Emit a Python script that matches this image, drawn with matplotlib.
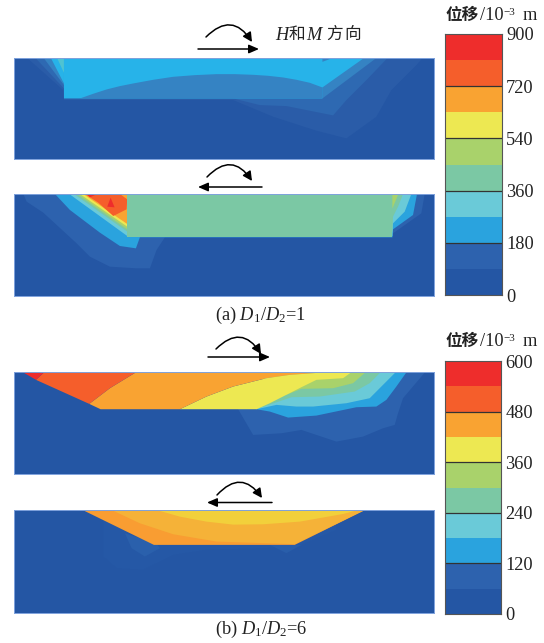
import numpy as np
import matplotlib
matplotlib.use("Agg")
import matplotlib.pyplot as plt
from matplotlib.colors import ListedColormap, BoundaryNorm

W, H = 544, 643
SERIF = ['Liberation Serif', 'Noto Sans CJK SC', 'DejaVu Sans']
plt.rcParams['font.family'] = SERIF
plt.rcParams['mathtext.fontset'] = 'custom'
plt.rcParams['mathtext.rm'] = 'Liberation Serif'
plt.rcParams['mathtext.it'] = 'Liberation Serif:italic'

# ---- colour bands ----
BANDS = ['#2456A4', '#2D62AE', '#2AA3DE', '#6ACAD8', '#7BC8A4',
         '#A9D26B', '#EDE852', '#F9A332', '#F55E2B', '#EE2D2C']
BLUE_SOFT = '#2A5CA8'
BLUE_MID = '#3583C3'
BLUE_BRIGHT = '#27B3E9'
ORANGE_PALE = '#F5B238'
YELLOW_WARM = '#F2D03B'

# ---- colour bar scales ----
levels_a = [0, 90, 180, 270, 360, 450, 540, 630, 720, 810, 900]
levels_b = [0, 60, 120, 180, 240, 300, 360, 420, 480, 540, 600]
ticks_a = [0, 180, 360, 540, 720, 900]
ticks_b = [0, 120, 240, 360, 480, 600]

# ---- panel 1: contour outlines ----
p1_soft = [(80,172),(190,270),(192,300),(700,300),(820,350),(950,392),(1040,415),(1130,350),(1175,270),(1250,195),(1270,172)]
p1_mid = [(105,172),(192,265),(192,295),(700,295),(780,315),(860,318),(1000,346),(1040,300),(1100,240),(1165,172)]
p1_left_blue = [(130,172),(192,255),(192,172)]
p1_left_bright = [(152,172),(192,250),(192,172)]
p1_left_teal = [(172,175),(192,218),(192,172)]
p1_right_wedge = [(968,295),(1132,172),(968,172)]
p1_block = [(192,172),(192,295),(968,295),(968,262),(1095,172)]
p1_arc = [(240,295),(280,281),(320,268),(360,258),(400,250),(460,239),(520,230),(585,225),(650,222),(705,222),(760,224),(805,227),(850,232),(890,239),(930,248),(968,262),(968,295)]
p1_notch = [(968,172),(992,176),(968,185)]

# ---- panel 2: contour outlines ----
p2_soft = [(70,102),(80,125),(130,158),(230,250),(270,290),(330,320),(410,325),(450,325),(470,270),(495,232),(1180,232),(1180,220),(1265,160),(1275,102)]
p2_blue = [(165,102),(210,150),(300,218),(360,258),(408,265),(420,232),(1178,232),(1180,208),(1240,165),(1252,102)]
p2_teal = [(208,102),(382,228),(1178,228),(1180,190),(1215,155),(1235,102)]
p2_green = [(222,102),(382,215),(1178,215),(1180,170),(1195,140),(1210,102)]
p2_lime = [(232,102),(382,208),(382,102)]
p2_yellow = [(240,102),(382,200),(382,102)]
p2_orange = [(250,102),(382,192),(382,102)]
p2_right_lime = [(1178,102),(1178,146),(1196,102)]
p2_redorange = [(255,102),(295,128),(340,168),(380,148),(382,118),(360,102)]
p2_red_top = [(260,102),(292,102),(270,112)]
p2_red_core = [(322,140),(332,113),(344,142)]
p2_block = [(382,102),(382,232),(1178,232),(1178,102)]

# ---- panel 3: contour outlines ----
p3_soft = [(715,178),(760,255),(845,250),(905,240),(1010,275),(1090,260),(1150,235),(1185,225),(1195,190),(1210,145),(1278,65),(800,65)]
p3_blue = [(770,178),(810,185),(865,203),(950,197),(1070,172),(1130,170),(1160,150),(1190,110),(1222,65),(800,65)]
p3_teal = [(770,178),(830,165),(890,170),(940,170),(1040,160),(1110,145),(1160,95),(1190,65),(800,65)]
p3_green = [(770,178),(875,142),(960,140),(1065,125),(1110,100),(1145,65),(800,65)]
p3_lime = [(860,135),(905,117),(1000,115),(1060,100),(1100,65),(800,65)]
p3_yellow = [(540,178),(620,140),(700,110),(800,85),(870,75),(1010,65),(1058,65),(1030,85),(950,90),(905,112),(810,160),(770,178)]
p3_orange = [(302,178),(268,162),(330,115),(412,65),(1010,65),(870,75),(800,85),(700,110),(620,140),(540,178)]
p3_redorange = [(108,90),(135,65),(412,65),(330,115),(268,162)]
p3_red = [(65,65),(135,65),(108,90)]

# ---- panel 4: contour outlines ----
p4_faint = [(310,130),(310,230),(350,265),(430,270),(520,225),(620,210),(800,205),(905,195),(1010,150),(1010,90),(310,90)]
p4_blob_l = [(375,160),(395,205),(435,230),(480,205),(470,190)]
p4_blob_r = [(810,195),(860,220),(905,195)]
p4_orange = [(248,90),(462,195),(885,195),(1096,90)]
p4_pale = [(335,90),(420,130),(520,163),(650,185),(800,190),(885,193),(1096,90)]
p4_warm = [(470,90),(540,110),(620,125),(700,134),(790,133),(900,125),(1030,102),(1075,90)]

fig = plt.figure(figsize=(W/100, H/100), dpi=100)
fig.patch.set_facecolor('white')


def panel(x0, y0, x1, y1, zx, zy, layers):
    """Axes placed by pixel box, with outline coordinates on its data scale."""
    ax = fig.add_axes([x0/W, 1-y1/H, (x1-x0)/W, (y1-y0)/H])
    ax.set_xlim(*zx)
    ax.set_ylim(*zy)
    ax.set_facecolor(BANDS[0])
    ax.set_xticks([])
    ax.set_yticks([])
    for s in ax.spines.values():
        s.set_color('#7FA2DC')
        s.set_linewidth(0.7)
    for pts, col in layers:
        xs, ys = zip(*pts)
        ax.fill(xs, ys, color=col, lw=0)
    return ax


panel(14, 57.5, 434, 159, (42, 1303), (477, 172), [
    (p1_soft, BLUE_SOFT), (p1_mid, '#2E69B2'), (p1_left_blue, BLUE_MID),
    (p1_left_bright, BLUE_BRIGHT), (p1_left_teal, '#4FC3D2'),
    (p1_right_wedge, BLUE_MID), (p1_block, BLUE_BRIGHT), (p1_arc, BLUE_MID),
    (p1_notch, BLUE_MID)])

panel(14, 194, 434, 296, (42, 1303), (408, 102), [
    (p2_soft, BANDS[1]), (p2_blue, BANDS[2]), (p2_teal, BANDS[3]), (p2_green, BANDS[4]),
    (p2_lime, BANDS[5]), (p2_yellow, BANDS[6]), (p2_orange, BANDS[7]),
    (p2_redorange, BANDS[8]), (p2_red_top, BANDS[9]), (p2_red_core, BANDS[9]),
    (p2_right_lime, BANDS[5]), (p2_block, BANDS[4])])

panel(14, 371.5, 434, 474, (42, 1303), (372, 65), [
    (p3_soft, BANDS[1]), (p3_blue, BANDS[2]), (p3_teal, BANDS[3]), (p3_green, BANDS[4]),
    (p3_lime, BANDS[5]), (p3_yellow, BANDS[6]), (p3_orange, BANDS[7]),
    (p3_redorange, BANDS[8]), (p3_red, BANDS[9])])

panel(14, 510, 434, 613, (42, 1303), (400, 90), [
    (p4_faint, '#2558A6'), (p4_blob_l, '#2A60AC'), (p4_blob_r, '#295EAA'),
    (p4_orange, '#F99D32'), (p4_pale, ORANGE_PALE), (p4_warm, YELLOW_WARM)])


def colorbar(x0, y0, x1, y1, levels, ticks):
    ax = fig.add_axes([x0/W, 1-y1/H, (x1-x0)/W, (y1-y0)/H])
    cmap = ListedColormap(BANDS)
    norm = BoundaryNorm(levels, cmap.N)
    mids = 0.5*(np.array(levels[:-1]) + np.array(levels[1:]))
    ax.pcolormesh([0, 1], levels, mids[:, None], cmap=cmap, norm=norm)
    ax.set_xticks([])
    ax.yaxis.tick_right()
    ax.set_yticks(ticks)
    ax.set_yticklabels([str(t) for t in ticks], fontsize=13.2, color='#222222')
    ax.tick_params(axis='y', length=0, pad=3)
    for t in ticks[1:-1]:
        ax.axhline(t, color='#333333', lw=0.9)
    for s in ax.spines.values():
        s.set_color('#555555')
        s.set_linewidth(0.8)


colorbar(445, 34, 502, 295, levels_a, ticks_a)
colorbar(445, 361, 501, 614, levels_b, ticks_b)

# ---- overlay for arrows and labels (pixel scale) ----
ov = fig.add_axes([0, 0, 1, 1], facecolor='none')
ov.set_xlim(0, W)
ov.set_ylim(H, 0)
ov.axis('off')


def moment(start, end, rad):
    ov.annotate('', xy=end, xytext=start,
                arrowprops=dict(arrowstyle='-|>,head_width=0.28,head_length=0.55',
                                connectionstyle=f'arc3,rad={rad}', color='black', lw=1.1,
                                shrinkA=0, shrinkB=0))


def force(start, end):
    ov.annotate('', xy=end, xytext=start,
                arrowprops=dict(arrowstyle='-|>,head_width=0.26,head_length=0.6',
                                color='black', lw=1.1, shrinkA=0, shrinkB=0))


moment((206, 37), (252, 42), -0.62)
force((198, 49), (259, 49))
moment((207, 177), (252, 181), -0.62)
force((262, 187), (198, 187))
moment((216, 349), (261, 354), -0.62)
force((208, 357), (270, 357))
moment((217, 495), (262, 498), -0.62)
force((272, 502.5), (207, 502.5))

INK = '#222222'
T = dict(va='center', ha='left', color=INK)
# header
ov.text(275, 35, 'H', fontsize=13.2, style='italic', **T)
ov.text(289, 35, '和', fontsize=12, **T)
ov.text(306, 35, 'M', fontsize=13.2, style='italic', **T)
ov.text(326, 35, '方', fontsize=12, **T)
ov.text(344, 35, '向', fontsize=12, **T)


def unit(y):
    ov.text(445, y, '位移', fontsize=12, fontweight='bold', **T)
    ov.text(480, y, '/10', fontsize=13.2, **T)
    ov.text(503, y-3.5, '−3', fontsize=8, **T)
    ov.text(523, y, 'm', fontsize=13.2, **T)


unit(16)
unit(342)

ov.text(260.5, 315, r'(a) $\mathit{D}_{1}/\mathit{D}_{2}$=1', fontsize=13.2,
        ha='center', va='center', color=INK)
ov.text(261, 629, r'(b) $\mathit{D}_{1}/\mathit{D}_{2}$=6', fontsize=13.2,
        ha='center', va='center', color=INK)

fig.savefig('out.png', dpi=100)
